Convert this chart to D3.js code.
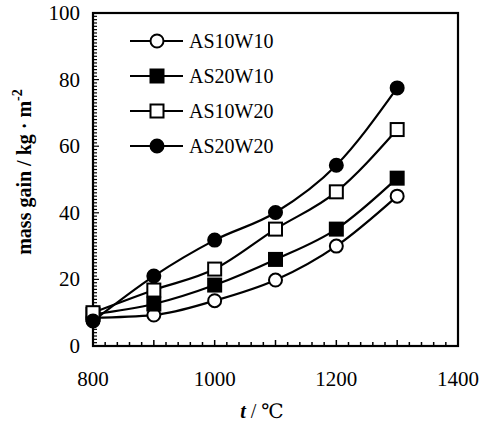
<!DOCTYPE html>
<html>
<head>
<meta charset="utf-8">
<script src="https://cdn.jsdelivr.net/npm/d3@7"></script>
<style>
  body { margin: 0; background: #fff; }
  svg text { fill: #000; }
</style>
</head>
<body>
<div class="chart-container"></div>
<script>
/********** the Data **********/
let temps = [800, 900, 1000, 1100, 1200, 1300];
let seriesNames = ["AS10W10", "AS20W10", "AS10W20", "AS20W20"];
let as10w10 = [8.5, 9.3, 13.6, 19.8, 30, 45];
let as20w10 = [9.5, 12.6, 18.3, 26, 35.1, 50.4];
let as10w20 = [10, 16.8, 23.1, 35.1, 46.3, 65];
let as20w20 = [7.5, 21, 31.8, 40.1, 54.3, 77.5];
let xTicks = [800, 1000, 1200, 1400];
let yTicks = [0, 20, 40, 60, 80, 100];

const FONT = "'Liberation Serif', 'DejaVu Serif', 'Times New Roman', serif";

/********** chart **********/
let width = 492, height = 430;
let margin = {top: 13, right: 34, bottom: 84, left: 93};

let svg = d3.select(".chart-container").append("svg")
  .attr("width", width)
  .attr("height", height)
  .attr("font-family", FONT)
  .style("font-family", FONT);

let xScale = d3.scaleLinear().domain([800, 1400]).range([margin.left, width - margin.right]);
let yScale = d3.scaleLinear().domain([0, 100]).range([height - margin.bottom, margin.top]);

let x0 = xScale.range()[0], x1 = xScale.range()[1];
let y0 = yScale.range()[0], y1 = yScale.range()[1];

// minor ticks (inside)
let g = svg.append("g").attr("stroke", "#000");
g.selectAll(".xminor")
  .data(d3.range(800, 1401, 20))
  .enter().append("line")
    .attr("x1", d => xScale(d)).attr("x2", d => xScale(d))
    .attr("y1", y0).attr("y2", d => y0 - (d % 100 === 0 ? 6 : 4))
    .attr("stroke-width", 1.5);
g.selectAll(".yminor")
  .data(d3.range(0, 101, 1))
  .enter().append("line")
    .attr("y1", d => yScale(d)).attr("y2", d => yScale(d))
    .attr("x1", x0).attr("x2", d => x0 + (d % 20 === 0 ? 6 : 4))
    .attr("stroke-width", 1.2);

// frame
svg.append("rect")
  .attr("x", x0).attr("y", y1)
  .attr("width", x1 - x0).attr("height", y0 - y1)
  .attr("fill", "none").attr("stroke", "#000").attr("stroke-width", 2.2);

// tick labels
svg.selectAll(".xlab")
  .data(xTicks)
  .enter().append("text")
    .attr("x", d => xScale(d))
    .attr("y", y0 + 40)
    .attr("text-anchor", "middle")
    .attr("font-size", 21)
    .text(d => d);
svg.selectAll(".ylab")
  .data(yTicks)
  .enter().append("text")
    .attr("x", x0 - 13)
    .attr("y", d => yScale(d) + 7)
    .attr("text-anchor", "end")
    .attr("font-size", 21)
    .text(d => d);

// axis titles
let xt = svg.append("text")
  .attr("x", 262).attr("y", 418)
  .attr("text-anchor", "middle")
  .attr("font-size", 20);
xt.append("tspan").attr("font-style", "italic").attr("font-weight", "bold").text("t");
xt.append("tspan").text(" /  ℃");

let yt = svg.append("text")
  .attr("transform", "translate(31," + 172 + ") rotate(-90)")
  .attr("text-anchor", "middle")
  .attr("font-size", 20)
  .attr("font-weight", "bold");
yt.append("tspan").text("mass gain / kg · m");
yt.append("tspan").attr("dy", -9).attr("font-size", 14).text("-2");

// series
let allSeries = [as10w10, as20w10, as10w20, as20w20];
let shapes = [
  {sym: "circle", fill: "#fff"},
  {sym: "square", fill: "#000"},
  {sym: "square", fill: "#fff"},
  {sym: "circle", fill: "#000"}
];

let line = d3.line()
  .x((d, i) => xScale(temps[i]))
  .y(d => yScale(d))
  .curve(d3.curveMonotoneX);

function drawMarker(sel, s) {
  if (s.sym === "circle") {
    sel.append("circle").attr("r", 6.5);
  } else {
    sel.append("rect").attr("x", -6.5).attr("y", -6.5).attr("width", 13).attr("height", 13);
  }
  sel.selectAll("circle, rect")
    .attr("fill", s.fill).attr("stroke", "#000").attr("stroke-width", 2);
}

allSeries.forEach(function (vals, k) {
  svg.append("path")
    .attr("d", line(vals))
    .attr("fill", "none")
    .attr("stroke", "#000")
    .attr("stroke-width", 2.2);
});
allSeries.forEach(function (vals, k) {
  vals.forEach(function (v, i) {
    let m = svg.append("g").attr("transform", `translate(${xScale(temps[i])},${yScale(v)})`);
    drawMarker(m, shapes[k]);
  });
});

// legend
seriesNames.forEach(function (name, k) {
  let ly = 41 + k * 35;
  svg.append("line")
    .attr("x1", 130).attr("x2", 183)
    .attr("y1", ly).attr("y2", ly)
    .attr("stroke", "#000").attr("stroke-width", 2.2);
  let m = svg.append("g").attr("transform", `translate(157,${ly})`);
  drawMarker(m, shapes[k]);
  svg.append("text")
    .attr("x", 189).attr("y", ly + 7)
    .attr("font-size", 20)
    .text(name);
});
</script>
</body>
</html>
